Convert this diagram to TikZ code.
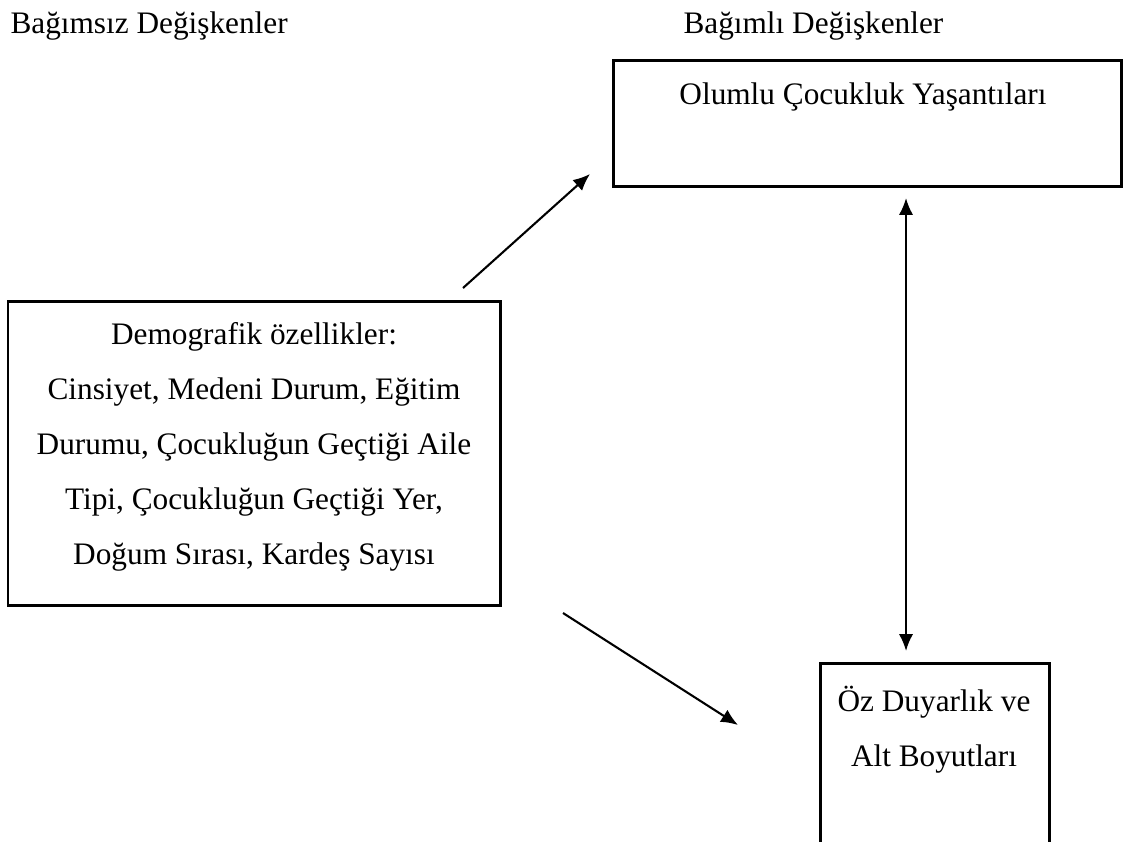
\documentclass[tikz,border=0pt]{standalone}
\usepackage{fontspec}
\setmainfont{Liberation Serif}
\usetikzlibrary{arrows.meta}
\newcommand{\px}{0.3835pt}

\begin{document}
\begin{tikzpicture}[x=\px,y=-\px,
        every node/.style={font=\fontsize{12}{21.1}\selectfont,inner sep=0pt},
        kutu/.style={draw,line width=1.15pt},
        ok/.style={line width=0.8pt,-{Latex[length=6.5pt,width=5.5pt]}}]
        \useasboundingbox (0,0) rectangle (1123,841);
        \clip (0,0) rectangle (1123,841);
        \node[anchor=base west] (bagimsiz) at (10,33) {Bağımsız Değişkenler};
        \node[anchor=base west] (bagimli) at (683,33) {Bağımlı Değişkenler};
        \node[kutu,minimum width=508*\px,minimum height=126*\px] (olumlu) at (867,123) {};
        \node[kutu,minimum width=492*\px,minimum height=304*\px] (demo) at (254,453) {};
        \node[kutu,minimum width=229*\px,minimum height=240*\px] (oz) at (934.5,783) {};
        \node[anchor=base] (olumluT) at (863,104) {Olumlu Çocukluk Yaşantıları};
        \node[align=center,anchor=north] (demoT) at (254,322) {Demografik özellikler:\\Cinsiyet, Medeni Durum, Eğitim\\Durumu, Çocukluğun Geçtiği Aile\\Tipi, Çocukluğun Geçtiği Yer,\\Doğum Sırası, Kardeş Sayısı};
        \node[align=center,anchor=north] (ozT) at (934,686) {Öz Duyarlık ve\\Alt Boyutları};
        \coordinate (a1) at (463,288);
        \coordinate (a2) at (590,174);
        \coordinate (b1) at (563,613);
        \coordinate (b2) at (738,725);
        \coordinate (c1) at (906,198);
        \coordinate (c2) at (906,651);
        \draw[ok] (a1) -- (a2);
        \draw[ok] (b1) -- (b2);
        \draw[ok,{Latex[length=6.5pt,width=5.5pt]}-{Latex[length=6.5pt,width=5.5pt]}] (c1) -- (c2);
    \end{tikzpicture}
\end{document}
